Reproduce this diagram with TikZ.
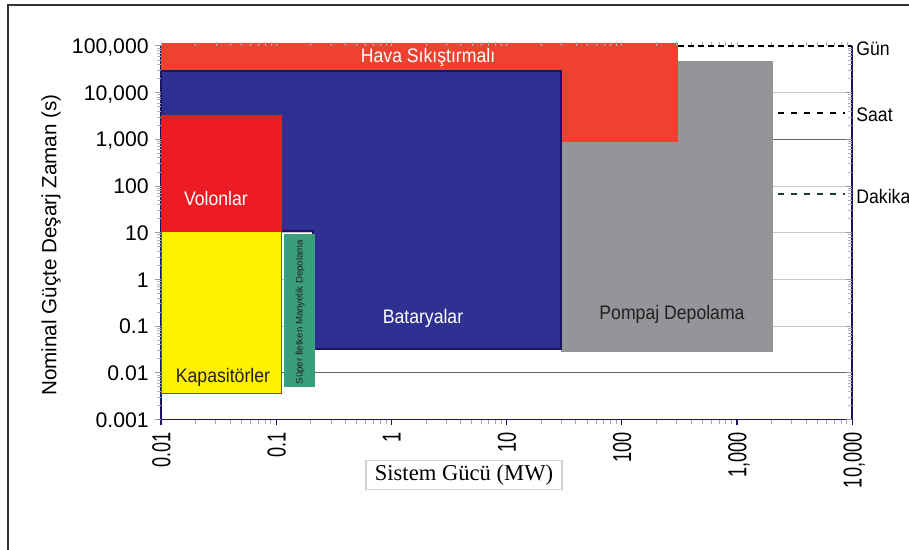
\documentclass[tikz,border=0pt]{standalone}
\usepackage{fontspec}
\setmainfont{Liberation Sans}
\newfontfamily\captionserif{Liberation Serif}
\newfontfamily\xtickfont[FakeStretch=0.7]{Liberation Sans}
\newfontfamily\labelfont[FakeStretch=0.9]{Liberation Sans}
\usepackage{tikz}
\usetikzlibrary{arrows.meta}
\definecolor{havacol}{HTML}{EE4130}
\definecolor{volcol}{HTML}{ED1C24}
\definecolor{batcol}{HTML}{2E3192}
\definecolor{navycol}{HTML}{1B1464}
\definecolor{pompcol}{HTML}{939598}
\definecolor{kapcol}{HTML}{FFF200}
\definecolor{smescol}{HTML}{3A9D7B}
\definecolor{dakcol}{HTML}{1E3A28}
\definecolor{inkcol}{HTML}{231F20}

\begin{document}
\begin{tikzpicture}[x=57.6pt, y=23.35pt,
    boxlabel/.style={inner sep=0pt, font=\labelfont\fontsize{9.8}{11}\selectfont},
    sidelabel/.style={anchor=west, inner sep=0pt, font=\labelfont\fontsize{9.8}{11}\selectfont},
    yticklab/.style={anchor=east, inner sep=0pt, text height=7.6pt, text depth=0pt,
                     font=\fontsize{10.6}{12}\selectfont},
    xticklab/.style={rotate=90, anchor=east, inner sep=0pt, text height=9.3pt, text depth=0pt,
                     font=\xtickfont\fontsize{13}{15}\selectfont}]

    \useasboundingbox (-1.3976,-2.794) rectangle (6.493,8.983);

    % ── Outer frame (open to the right and bottom) ───────────────────────────
    \draw[line width=1.1pt, black!80] (-1.328,-3.2) -- (-1.328,8.876) -- (6.8,8.876);

    % ── Grid lines ───────────────────────────────────────────────────────────
    \foreach \y in {2,3,4,5,7}
        \draw[gray!45, line width=0.5pt] (0,\y) -- (6,\y);
    \foreach \y in {1,6}
        \draw[black!60, line width=0.5pt] (0,\y) -- (6,\y);

    % ── Axes ─────────────────────────────────────────────────────────────────
    \draw[navycol, line width=0.9pt] (0,8) -- (0,0) -- (6,0) -- (6,8);

    % ── Pompaj Depolama ──────────────────────────────────────────────────────
    \fill[pompcol] (3.472,1.445) rectangle (5.313,7.677);

    % ── Hava Sıkıştırmalı ────────────────────────────────────────────────────
    \fill[havacol] (0,5.942) rectangle (4.488,8.062);

    % ── Bataryalar ───────────────────────────────────────────────────────────
    \filldraw[fill=batcol, draw=navycol, line width=0.6pt]
        (0,7.462) -- (3.472,7.462) -- (3.472,1.510) -- (1.32,1.510)
        -- (1.32,4.036) -- (0,4.036) -- cycle;

    % ── Volonlar and Kapasitörler ────────────────────────────────────────────
    \fill[volcol] (0,4.036) rectangle (1.050,6.51);
    \filldraw[fill=kapcol, draw=volcol, line width=0.5pt] (0,0.567) rectangle (1.050,4.036);

    % ── Süper İletken Manyetik Depolama ──────────────────────────────────────
    \fill[smescol] (1.068,0.696) rectangle (1.337,3.972);

    % ── Tick marks ───────────────────────────────────────────────────────────
    \foreach \d in {0,...,5} {
        \draw[navycol, line width=0.6pt] (\d,0) -- ++(0,-2.5pt);
        \foreach \k in {2,...,9}
            \draw[gray!70, line width=0.5pt] ({\d+log10(\k)},0) -- ++(0,-2pt);
    }
    \draw[navycol, line width=0.6pt] (6,0) -- ++(0,-2.5pt);
    \foreach \d in {0,...,7} {
        \draw[gray!80, line width=0.5pt] (0,\d) -- ++(-3pt,0);
        \draw[gray!80, line width=0.5pt] (6,\d) -- ++(-3pt,0);
        \foreach \k in {2,...,9} {
            \draw[gray!60, line width=0.4pt] (0,{\d+log10(\k)}) -- ++(-2pt,0);
            \draw[gray!60, line width=0.4pt] (6,{\d+log10(\k)}) -- ++(-2pt,0);
        }
    }
    \draw[gray!80, line width=0.5pt] (0,8) -- ++(-3pt,0);
    \foreach \d in {0,...,5}
        \foreach \k in {1,...,9}
            \draw[gray!60, line width=0.4pt] ({\d+log10(\k)},8) -- ++(0,2pt);

    % ── Gün / Saat / Dakika markers ──────────────────────────────────────────
    \draw[black, line width=1pt, dash pattern=on 3pt off 2pt] (4.488,8) -- (6,8);
    \draw[black, line width=0.8pt, dash pattern=on 3pt off 3.5pt] (5.356,6.557) -- (5.94,6.557);
    \draw[dakcol, line width=1pt, dash pattern=on 3pt off 3.5pt] (5.356,4.83) -- (5.94,4.83);
    \node[sidelabel] (gun) at (6.033,7.93) {Gün};
    \node[sidelabel] (saat) at (6.033,6.52) {Saat};
    \node[sidelabel] (dakika) at (6.033,4.77) {Dakika};

    % ── Box labels ───────────────────────────────────────────────────────────
    \node[boxlabel, text=white] (hava) at (2.318,7.762) {Hava Sıkıştırmalı};
    \node[boxlabel, text=white] (volon) at (0.477,4.743) {Volonlar};
    \node[boxlabel, text=inkcol] (kapas) at (0.538,0.91) {Kapasitörler};
    \node[boxlabel, text=white] (batar) at (2.274,2.173) {Bataryalar};
    \node[boxlabel, text=inkcol] (pompaj) at (4.436,2.259) {Pompaj Depolama};
    \node[rotate=90, inner sep=0pt, text=inkcol, font=\fontsize{4.8}{6}\selectfont]
        (smes) at (1.202,2.30) {Süper İletken Manyetik Depolama};

    % ── Tick labels ──────────────────────────────────────────────────────────
    \foreach \y/\lab in {0/0.001, 1/0.01, 2/0.1, 3/1, 4/10, 5/100,
                         6/{1,000}, 7/{10,000}, 8/{100,000}}
        \node[yticklab] (ylab\y) at (-0.104,\y) {\lab};
    \foreach \x/\lab in {0/0.01, 1/0.1, 2/1, 3/10, 4/100, 5/{1,000}, 6/{10,000}}
        \node[xticklab] (xlab\x) at (\x,-0.268) {\lab};

    % ── Axis titles ──────────────────────────────────────────────────────────
    \node[rotate=90, inner sep=0pt, font=\fontsize{10.3}{12}\selectfont]
        (ytitle) at (-0.955,3.737) {Nominal Güçte Deşarj Zaman (s)};
    \node[draw=gray!35, line width=0.8pt, minimum width=98pt, minimum height=14.5pt,
          inner sep=0pt, font=\captionserif\fontsize{11.3}{13}\selectfont]
        (xtitle) at (2.63,-1.188) {Sistem Gücü (MW)};

\end{tikzpicture}
\end{document}
